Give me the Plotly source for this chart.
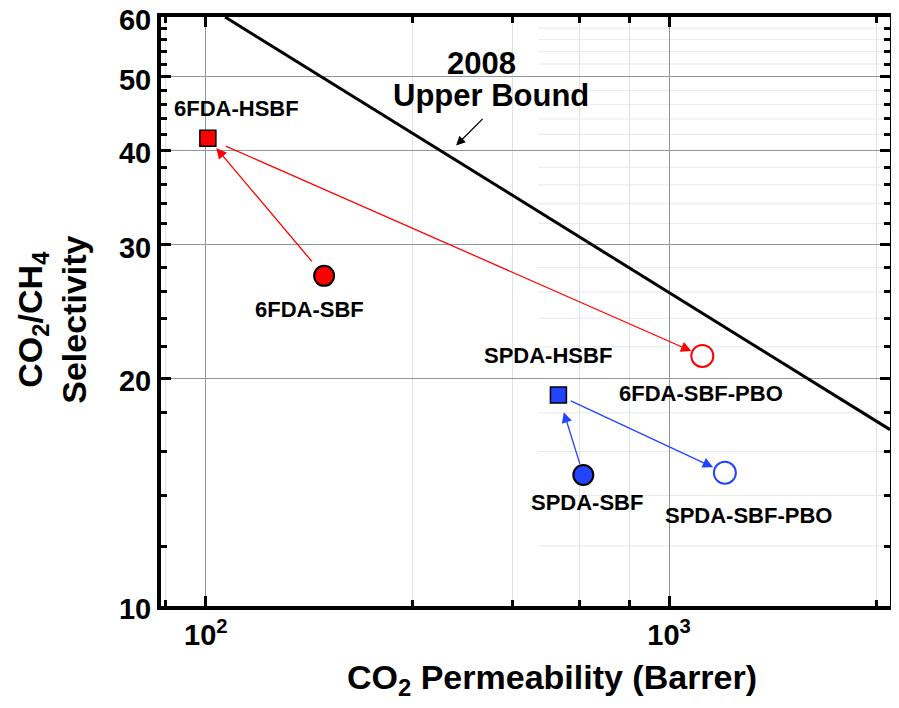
import math
import plotly.graph_objects as go

# membrane data
names = ["6FDA-HSBF", "6FDA-SBF", "6FDA-SBF-PBO", "SPDA-HSBF", "SPDA-SBF", "SPDA-SBF-PBO"]
perm = [101, 180, 1180, 577, 653, 1320]
sel = [41.5, 27.3, 21.4, 19.0, 14.9, 15.0]

# 2008 Robeson upper bound, end points
ub_perm = [110, 3000]
ub_sel = [60, 17.1]

# ticks
x_major = [100, 1000]
x_major_text = ["<b>10<sup>2</sup></b>", "<b>10<sup>3</sup></b>"]
x_minor = [82, 280, 460, 640, 820, 2800]
y_major = [10, 20, 30, 40, 50, 60]
y_minor = [12, 14, 16, 18, 22, 24, 26, 28, 32, 34, 36, 38, 42, 44, 46, 48, 52, 54, 56, 58]

RED = "#ff0000"
BLUE = "#2244ff"
FONT = "Liberation Sans"

fig = go.Figure()

fig.add_trace(go.Scatter(x=ub_perm, y=ub_sel, mode="lines",
                         line=dict(color="black", width=3)))

# filled squares (HSBF), filled circles (SBF), open circles (PBO)
styles = [
    (0, "square", RED, 16, "black", 1.5),
    (1, "circle", RED, 20, "black", 2),
    (2, "circle", "white", 22, RED, 2),
    (3, "square", BLUE, 16, "black", 1.5),
    (4, "circle", BLUE, 20, "black", 2),
    (5, "circle", "white", 22, BLUE, 2),
]
for i, sym, fill, size, edge, lw in styles:
    fig.add_trace(go.Scatter(x=[perm[i]], y=[sel[i]], mode="markers",
                             marker=dict(symbol=sym, color=fill, size=size,
                                         line=dict(color=edge, width=lw))))

ann = []
# arrows between the membranes
arrows = [(1, 0, RED, 17, 13), (0, 2, RED, 18, 12), (4, 3, BLUE, 10, 18), (3, 5, BLUE, 12, 13)]
for a, b, c, s0, s1 in arrows:
    ann.append(dict(x=math.log10(perm[b]), y=math.log10(sel[b]),
                    ax=math.log10(perm[a]), ay=math.log10(sel[a]),
                    xref="x", yref="y", axref="x", ayref="y", text="",
                    showarrow=True, arrowhead=2, arrowsize=1.6, arrowwidth=1.3,
                    arrowcolor=c, startstandoff=s0, standoff=s1))

# point labels
shifts = [(29, 30), (-15, -34), (-1, -38), (-10, 40), (4, -28), (24, -43)]
for i, (dx, dy) in enumerate(shifts):
    ann.append(dict(x=math.log10(perm[i]), y=math.log10(sel[i]), xref="x", yref="y",
                    text="<b>%s</b>" % names[i], showarrow=False, xshift=dx, yshift=dy,
                    font=dict(family=FONT, size=22, color="black")))

# upper bound label and arrow
ann.append(dict(x=math.log10(394), y=math.log10(52.1), xref="x", yref="y", text="<b>2008</b>",
                showarrow=False, font=dict(family=FONT, size=31, color="black")))
ann.append(dict(x=math.log10(413), y=math.log10(47.3), xref="x", yref="y", text="<b>Upper Bound</b>",
                showarrow=False, font=dict(family=FONT, size=31, color="black")))
ann.append(dict(x=math.log10(347), y=math.log10(40.6), xref="x", yref="y", text="",
                showarrow=True, ax=28, ay=-28, arrowhead=2, arrowsize=1.4, arrowwidth=1.3,
                arrowcolor="black"))

# axis titles
ann.append(dict(x=0.536, y=-0.085, xref="paper", yref="paper", xanchor="center", yanchor="top",
                text="<b>CO<sub>2</sub> Permeability (Barrer)</b>", showarrow=False,
                font=dict(family=FONT, size=34, color="black")))
ann.append(dict(x=-0.1495, y=0.486, xref="paper", yref="paper", xanchor="center", yanchor="middle",
                textangle=-90,
                text="<b>CO<sub>2</sub>/CH<sub>4</sub><br>Selectivity</b>", showarrow=False,
                font=dict(family=FONT, size=34, color="black")))

# faint minor horizontal grid on the right part
shapes = [dict(type="line", xref="x", yref="y", x0=522, x1=3000, y0=v, y1=v,
               line=dict(color="#e6eaea", width=1), layer="below") for v in y_minor]

tickfont = dict(family=FONT, size=29, color="black")
fig.update_layout(
    width=899, height=708,
    margin=dict(l=153, r=17, t=9, b=110),
    plot_bgcolor="white", paper_bgcolor="white",
    showlegend=False,
    annotations=ann,
    shapes=shapes,
    font=dict(family=FONT, color="black"),
    xaxis=dict(type="log", range=[math.log10(80), math.log10(3000)], automargin=False,
               tickvals=x_major, ticktext=x_major_text, tickfont=tickfont,
               ticklabeloverflow="allow",
               ticks="inside", ticklen=10, tickwidth=3, tickcolor="black",
               showline=True, linewidth=4, linecolor="black", mirror="ticks",
               showgrid=True, gridcolor="#8f9797", gridwidth=1, zeroline=False,
               minor=dict(tickvals=x_minor, ticks="inside", ticklen=6, tickwidth=3,
                          tickcolor="black", showgrid=True, gridcolor="#dde2e2", gridwidth=1)),
    yaxis=dict(type="log", range=[1, math.log10(60)], automargin=False,
               tickvals=y_major, ticktext=["<b>%d</b>" % v for v in y_major], tickfont=tickfont,
               ticklabeloverflow="allow", ticklabelshift=3,
               ticks="inside", ticklen=10, tickwidth=3, tickcolor="black",
               showline=True, linewidth=4, linecolor="black", mirror="ticks",
               showgrid=True, gridcolor="#8f9797", gridwidth=1, zeroline=False,
               minor=dict(tickvals=y_minor, ticks="inside", ticklen=6, tickwidth=3,
                          tickcolor="black", showgrid=False)),
)

fig.write_html("out.html")
